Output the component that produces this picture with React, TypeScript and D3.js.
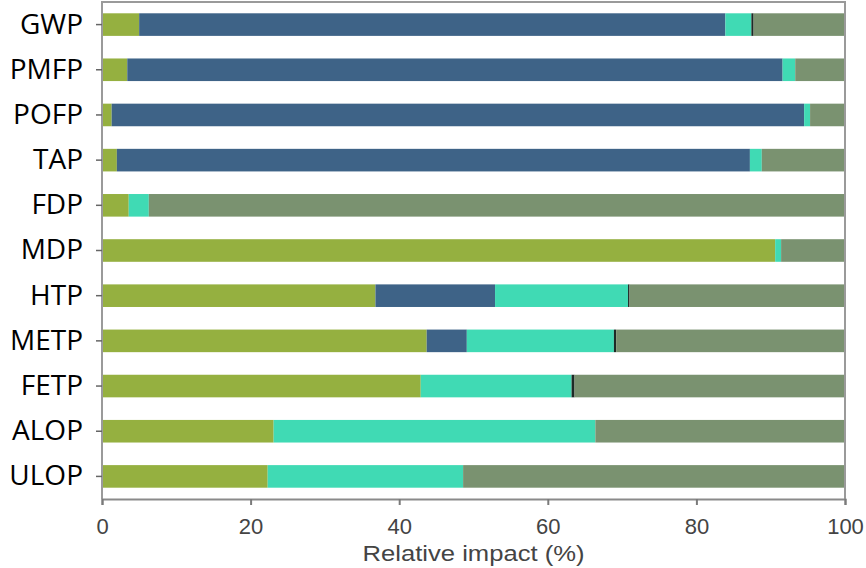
import React, { useEffect, useRef } from "react";
import * as d3 from "d3";

// Impact categories, top to bottom
const categories = ["GWP", "PMFP", "POFP", "TAP", "FDP", "MDP", "HTP", "METP", "FETP", "ALOP", "ULOP"];

// Relative contribution (%) of each stage per category
const stageA = [5.0, 3.4, 1.3, 2.0, 3.6, 90.6, 36.8, 43.7, 42.9, 23.1, 22.3];
const stageB = [78.9, 88.2, 93.2, 85.2, 0, 0, 16.1, 5.4, 0, 0, 0];
const stageC = [3.5, 1.7, 0.8, 1.6, 2.7, 0.8, 17.9, 19.8, 20.3, 43.3, 26.3];
const stageD = [0.3, 0, 0, 0, 0, 0, 0.2, 0.3, 0.4, 0, 0];
const stageE = categories.map((_, i) => 100 - stageA[i] - stageB[i] - stageC[i] - stageD[i]);

const seriesKeys = ["a", "b", "c", "d", "e"];
const seriesColors = ["#95b040", "#3e6387", "#40dab4", "#1e2a26", "#7a9270"];
const xTicks = [0, 20, 40, 60, 80, 100];

const W = 866;
const H = 568;
const M = { left: 102, right: 21, top: 2, bottom: 69 };

export default function App() {
  const ref = useRef<SVGSVGElement | null>(null);

  useEffect(() => {
    const svg = d3.select(ref.current);
    svg.selectAll("*").remove();

    const rows = categories.map((c, i) => ({
      cat: c,
      a: stageA[i],
      b: stageB[i],
      c: stageC[i],
      d: stageD[i],
      e: stageE[i],
    }));

    const x = d3.scaleLinear().domain([0, 100]).range([M.left, W - M.right]);
    const y = d3
      .scaleBand<string>()
      .domain(categories)
      .range([M.top, H - M.bottom])
      .paddingInner(0.5)
      .paddingOuter(0.25);

    const stack = d3.stack<any>().keys(seriesKeys);
    const layers = stack(rows);

    svg
      .append("g")
      .selectAll("g")
      .data(layers)
      .join("g")
      .attr("fill", (_, i) => seriesColors[i])
      .selectAll("rect")
      .data((l) => l)
      .join("rect")
      .attr("x", (d) => x(d[0]))
      .attr("y", (d) => y(d.data.cat)!)
      .attr("width", (d) => Math.max(0, x(d[1]) - x(d[0])))
      .attr("height", y.bandwidth());

    // plot frame (top, right, left)
    svg
      .append("path")
      .attr(
        "d",
        `M${x(0)},${H - M.bottom} V${M.top} H${x(100)} V${H - M.bottom}`
      )
      .attr("fill", "none")
      .attr("stroke", "#9a9a9a")
      .attr("stroke-width", 2);

    // x axis
    const xAxis = svg
      .append("g")
      .attr("transform", `translate(0,${H - M.bottom})`)
      .call(d3.axisBottom(x).tickValues(xTicks).tickSize(6).tickPadding(13).tickFormat(d3.format("d")));
    xAxis.select(".domain").attr("stroke", "#8a8a8a").attr("stroke-width", 2);
    xAxis.selectAll(".tick line").attr("stroke", "#7a7a7a").attr("stroke-width", 2);
    xAxis
      .selectAll(".tick text")
      .attr("fill", "#444")
      .attr("font-family", "Liberation Sans, Arial, sans-serif")
      .attr("font-size", 22);

    // y axis
    const yAxis = svg
      .append("g")
      .attr("transform", `translate(${M.left},0)`)
      .call(d3.axisLeft(y).tickSize(6).tickPadding(13));
    yAxis.select(".domain").remove();
    yAxis.selectAll(".tick line").attr("stroke", "#666").attr("stroke-width", 1.5);
    yAxis
      .selectAll(".tick text")
      .attr("fill", "#000")
      .attr("font-family", "Open Sans, sans-serif")
      .attr("font-size", 28);

    svg
      .append("text")
      .attr("x", (x(0) + x(100)) / 2)
      .attr("y", 561)
      .attr("text-anchor", "middle")
      .attr("fill", "#444")
      .attr("font-family", "Liberation Sans, Arial, sans-serif")
      .attr("font-size", 22)
      .attr("textLength", 222)
      .attr("lengthAdjust", "spacingAndGlyphs")
      .text("Relative impact (%)");
  }, []);

  return (
    <svg
      ref={ref}
      width={W}
      height={H}
      style={{ position: "absolute", left: 0, top: 0, background: "#fff" }}
    />
  );
}
